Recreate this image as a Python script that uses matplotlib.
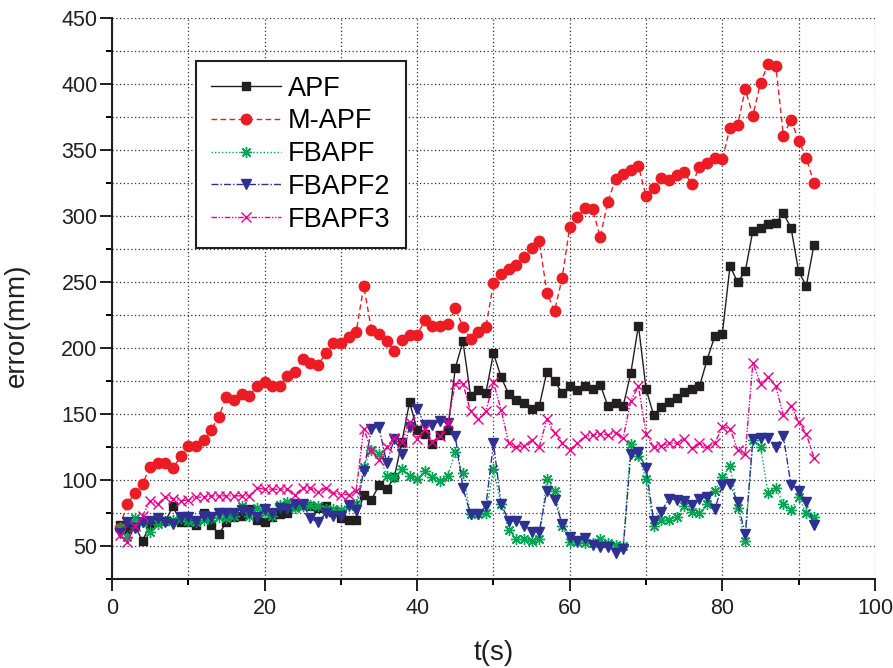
import numpy as np
import matplotlib
matplotlib.use('Agg')
import matplotlib.pyplot as plt
from matplotlib.ticker import MultipleLocator

plt.rcParams['font.family'] = ['Liberation Sans', 'DejaVu Sans']

# time steps (s)
t = list(range(1, 93))

apf = [66, 63, 65, 54, 66, 69, 69, 80, 68, 68, 66, 75, 66, 59, 68, 72, 73, 78, 70, 68,
       72, 74, 75, 80, 81, 80, 79, 80, 76, 71, 70, 70, 89, 85, 96, 93, 102, 129, 159, 138,
       135, 127, 134, 138, 185, 205, 164, 168, 166, 196, 178, 165, 161, 158, 154, 156, 182, 175, 166, 171,
       168, 171, 169, 172, 156, 158, 156, 181, 217, 169, 149, 155, 159, 162, 167, 169, 171, 191, 209, 211,
       262, 250, 258, 289, 291, 294, 295, 302, 291, 258, 247, 278]

m_apf = [64, 82, 90, 97, 110, 113, 113, 109, 118, 126, 126, 130, 138, 148, 163, 161, 165, 164, 171, 174,
         171, 171, 179, 182, 192, 189, 187, 196, 204, 204, 208, 212, 247, 214, 211, 205, 198, 206, 210, 210,
         221, 217, 217, 218, 230, 216, 207, 212, 216, 249, 256, 260, 263, 269, 276, 281, 242, 228, 253, 292,
         299, 306, 305, 284, 311, 328, 332, 335, 338, 315, 321, 329, 327, 331, 333, 324, 337, 340, 344, 343,
         367, 369, 396, 376, 401, 415, 414, 361, 373, 357, 344, 325]

fbapf = [64, 57, 71, 68, 61, 67, 69, 70, 71, 69, 68, 70, 71, 72, 71, 73, 80, 73, 79, 75,
         73, 81, 83, 79, 80, 81, 80, 78, 78, 77, 80, 82, 110, 123, 120, 103, 102, 108, 103, 101,
         107, 102, 99, 103, 121, 105, 74, 74, 75, 108, 82, 62, 55, 55, 54, 55, 101, 92, 65, 53,
         53, 52, 52, 55, 52, 51, 50, 127, 118, 101, 65, 70, 70, 72, 80, 76, 75, 82, 92, 102,
         111, 79, 54, 130, 125, 90, 94, 82, 77, 87, 75, 72]

fbapf2 = [60, 68, 64, 68, 69, 71, 68, 67, 72, 72, 69, 73, 72, 75, 75, 75, 77, 76, 72, 78,
          75, 79, 78, 82, 82, 71, 68, 75, 73, 73, 81, 77, 107, 139, 140, 113, 131, 120, 140, 154,
          142, 142, 145, 143, 133, 94, 74, 74, 80, 128, 82, 69, 69, 65, 61, 61, 92, 85, 67, 57,
          54, 56, 51, 49, 49, 45, 48, 120, 121, 109, 69, 76, 86, 85, 84, 81, 86, 87, 78, 96,
          97, 83, 59, 131, 132, 132, 125, 133, 96, 92, 83, 66]

fbapf3 = [58, 53, 65, 73, 84, 82, 87, 86, 84, 85, 87, 87, 88, 88, 88, 88, 88, 88, 94, 93,
          93, 93, 93, 89, 94, 94, 91, 94, 90, 89, 89, 92, 139, 122, 115, 125, 132, 129, 144, 131,
          139, 129, 133, 143, 173, 173, 152, 146, 152, 174, 153, 128, 125, 126, 130, 125, 146, 136, 128, 123,
          128, 133, 134, 135, 134, 136, 132, 160, 171, 135, 125, 126, 128, 128, 131, 124, 128, 125, 128, 140,
          139, 123, 120, 189, 173, 178, 171, 149, 156, 144, 135, 117]

fig = plt.figure(figsize=(8.93, 6.68), dpi=100)
ax = fig.add_axes([0.1254, 0.1332, 0.8544, 0.8398])

ax.plot(t, apf, color='#231f20', lw=1.0, ls='-', marker='s', ms=6,
        label='APF')
ax.plot(t, m_apf, color='#ed1c24', lw=1.0, ls=(0, (4, 2.5)), marker='o', ms=7.5,
        mec='#ed1c24', label='M-APF')
ax.plot(t, fbapf, color='#00a651', lw=1.0, ls=(0, (1, 1.5)), marker=(8, 2, 0), ms=8,
        mew=1.0, label='FBAPF')
ax.plot(t, fbapf2, color='#2e3192', lw=1.0, ls=(0, (5, 1.5, 1, 1.5)), marker='v', ms=7.5,
        label='FBAPF2')
ax.plot(t, fbapf3, color='#ec008c', lw=1.0, ls=(0, (4, 1.2, 1, 1.2, 1, 1.2)), marker='x', ms=7,
        mew=1.0, label='FBAPF3')

ax.set_xlim(0, 100)
ax.set_ylim(25, 450)
ax.xaxis.set_major_locator(MultipleLocator(20))
ax.xaxis.set_minor_locator(MultipleLocator(10))
ax.yaxis.set_minor_locator(MultipleLocator(25))
ax.set_yticks([50, 100, 150, 200, 250, 300, 350, 400, 450])

ax.grid(which='both', ls=(0, (1, 2)), color='#333333', lw=0.9)
ax.set_axisbelow(True)

for s in ['top', 'right']:
    ax.spines[s].set_visible(False)
for s in ['left', 'bottom']:
    ax.spines[s].set_linewidth(1.5)
    ax.spines[s].set_color('#231f20')

ax.tick_params(which='major', direction='out', length=8.5, width=1.4,
               labelsize=15.5, colors='#231f20')
ax.tick_params(which='minor', direction='out', length=4.5, width=1.4)
ax.tick_params(axis='y', which='major', pad=2)
ax.tick_params(axis='x', which='major', pad=5)

ax.set_xlabel('t(s)', fontsize=20, color='#231f20', labelpad=15)
ax.set_ylabel('error(mm)', fontsize=20, color='#231f20')
ax.yaxis.set_label_coords(-0.107, 0.453)

leg = ax.legend(loc='upper left', bbox_to_anchor=(0.11, 0.924), borderaxespad=0,
                fontsize=19.5, frameon=True, fancybox=False, framealpha=1,
                handlelength=2.6, handletextpad=0.25, labelspacing=0.25,
                borderpad=0.55)
leg.get_frame().set_edgecolor('#231f20')
leg.get_frame().set_linewidth(1.5)

fig.savefig('out.png', dpi=100)
